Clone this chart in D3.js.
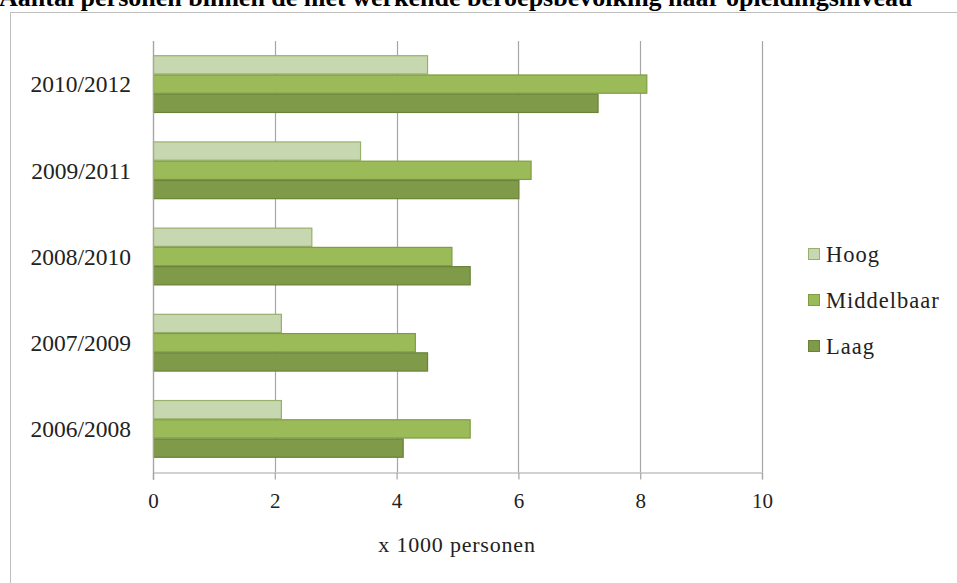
<!DOCTYPE html>
<html><head><meta charset="utf-8">
<script src="https://cdn.jsdelivr.net/npm/d3@7"></script>
<style>body{margin:0;background:#fff}svg{display:block}</style>
</head><body>
<svg id="c" width="957" height="583"></svg>
<script>
const title = "Aantal personen binnen de niet werkende beroepsbevolking naar opleidingsniveau";
const categories = ["2010/2012","2009/2011","2008/2010","2007/2009","2006/2008"];
const seriesNames = ["Hoog","Middelbaar","Laag"];
const hoog = [4.5, 3.4, 2.6, 2.1, 2.1];
const middelbaar = [8.1, 6.2, 4.9, 4.3, 5.2];
const laag = [7.3, 6.0, 5.2, 4.5, 4.1];
const xTicks = [0,2,4,6,8,10];
const xTitle = "x 1000 personen";

const seriesValues = [hoog, middelbaar, laag];
const fills = ["#c7d7af","#9bbb59","#7f9a48"];
const strokes = ["#97b06e","#7f9c45","#6a8338"];
const font = "Liberation Serif, DejaVu Serif, serif";

const svg = d3.select("#c");
svg.append("rect").attr("x",10.5).attr("y",12.5).attr("width",960).attr("height",600)
  .attr("fill","none").attr("stroke","#bfbfbf").attr("stroke-width",1);
svg.append("text").attr("x",-1).attr("y",6).text(title)
  .attr("font-family",font).attr("font-weight","bold").attr("font-size",26).attr("fill","#000");

const x = d3.scaleLinear().domain([0,10]).range([153,762]);
const y = d3.scaleBand().domain(categories).range([41,472]).paddingInner(0.33).paddingOuter(0.165);
const yi = d3.scaleBand().domain(seriesNames).range([0,y.bandwidth()]);

svg.append("g").selectAll("line").data(xTicks).join("line")
  .attr("x1",d=>Math.round(x(d))+0.5).attr("x2",d=>Math.round(x(d))+0.5)
  .attr("y1",41).attr("y2",472).attr("stroke","#a6a6a6").attr("stroke-width",1.2);

const data = [];
categories.forEach((c,i)=>seriesNames.forEach((s,j)=>data.push({c,s,j,v:seriesValues[j][i]})));
svg.append("g").selectAll("rect").data(data).join("rect")
  .attr("x",x(0)+0.5).attr("y",d=>y(d.c)+yi(d.s)+0.5)
  .attr("width",d=>x(d.v)-x(0)).attr("height",yi.bandwidth()-1)
  .attr("fill",d=>fills[d.j]).attr("stroke",d=>strokes[d.j]).attr("stroke-width",1.2);

const xa = svg.append("g").attr("transform","translate(0,472.5)")
  .call(d3.axisBottom(x).tickValues(xTicks).tickSize(7).tickPadding(14).tickFormat(d3.format("d")));
xa.select(".domain").attr("stroke","#a6a6a6").attr("stroke-width",1.2);
xa.selectAll(".tick line").attr("stroke","#a6a6a6").attr("stroke-width",1.2);
xa.selectAll("text").attr("font-family",font).attr("font-size",21).attr("fill","#222");

svg.append("line").attr("x1",153.5).attr("x2",153.5).attr("y1",41).attr("y2",480)
  .attr("stroke","#a6a6a6").attr("stroke-width",1.2);

svg.append("g").selectAll("text").data(categories).join("text")
  .attr("x",131).attr("y",d=>y(d)+y.bandwidth()/2).attr("dy","0.35em")
  .attr("text-anchor","end").attr("font-family",font).attr("font-size",23.5).attr("fill","#222")
  .text(d=>d);

svg.append("text").attr("x",457).attr("y",552).attr("text-anchor","middle")
  .attr("font-family",font).attr("font-size",22).attr("letter-spacing",0.8).attr("fill","#222").text(xTitle);

const lg = svg.append("g").selectAll("g").data(seriesNames).join("g")
  .attr("transform",(d,i)=>`translate(808,${248+i*46})`);
lg.append("rect").attr("x",0.5).attr("y",0.5).attr("width",11).attr("height",11)
  .attr("fill",(d,i)=>fills[i]).attr("stroke",(d,i)=>strokes[i]);
lg.append("text").attr("x",18).attr("y",6).attr("dy","0.35em")
  .attr("font-family",font).attr("font-size",22.5).attr("letter-spacing",1).attr("fill","#222").text(d=>d);
</script>
</body></html>
